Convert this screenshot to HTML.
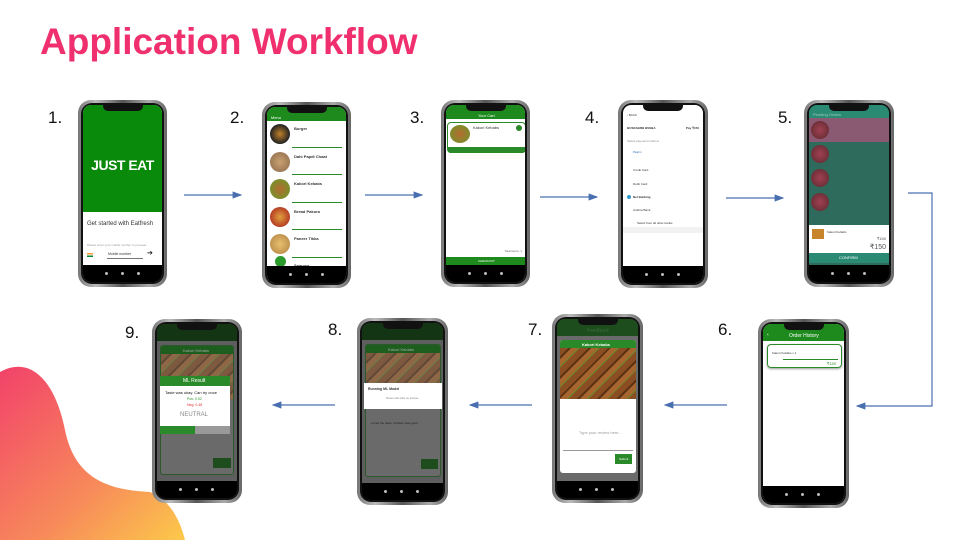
<!DOCTYPE html>
<html><head><meta charset="utf-8"><style>
*{margin:0;padding:0;box-sizing:border-box}
body{width:960px;height:540px;background:#fff;position:relative;overflow:hidden;font-family:"Liberation Sans",sans-serif}
.abs{position:absolute}
.ph{position:absolute;border-radius:13px;background:linear-gradient(90deg,#777,#bbb 20%,#555 50%,#aaa 80%,#666);padding:3px}
.ph>.in{width:100%;height:100%;background:#111;border-radius:11px;padding:2px;position:relative}
.sc{position:relative;width:100%;height:100%;border-radius:8px;overflow:hidden;background:#fff}
.notch{position:absolute;left:50%;top:0;width:40px;height:6px;margin-left:-20px;background:#111;border-radius:0 0 5px 5px;z-index:5}
.nav{position:absolute;left:0;right:0;bottom:0;height:17px;background:#000;z-index:4}
.nav i{position:absolute;top:7px;width:3px;height:3px;border-radius:50%;background:#bbb}
.lbl{position:absolute;font-size:17px;color:#111}
.t{position:absolute;font-size:4px;color:#333;white-space:nowrap}
.food{position:absolute;border-radius:50%;background:radial-gradient(circle at 40% 40%,#c98a3a,#7a4a1e 70%,#4a2a10)}
.kebab{position:absolute;background:repeating-linear-gradient(135deg,#8a4e22 0 6px,#5c3214 6px 8px,#a7652f 8px 13px,#6a8a2a 13px 14px)}
</style></head><body>

<div class="abs" style="left:40px;top:21px;font-size:37px;font-weight:bold;color:#f0306e">Application Workflow</div>

<svg class="abs" style="left:0;top:0" width="960" height="540">
<defs><linearGradient id="g" x1="0" y1="0" x2="1" y2="1"><stop offset="0" stop-color="#f2426a"/><stop offset="0.6" stop-color="#f78a5a"/><stop offset="1" stop-color="#fcc94a"/></linearGradient>
<marker id="a" markerWidth="8" markerHeight="6" refX="7" refY="3" orient="auto"><path d="M0,0 L8,3 L0,6 Z" fill="#4a6fb0"/></marker></defs>
<path d="M0,372 C30,355 55,380 65,430 C75,480 110,490 150,492 C170,500 180,520 185,540 L0,540 Z" fill="url(#g)"/>
<g stroke="#4a6fb0" stroke-width="1.2" fill="none" marker-end="url(#a)">
<line x1="184" y1="195" x2="241" y2="195"/>
<line x1="365" y1="195" x2="422" y2="195"/>
<line x1="540" y1="197" x2="597" y2="197"/>
<line x1="726" y1="198" x2="783" y2="198"/>
<polyline points="908,193 932,193 932,406 857,406"/>
<line x1="727" y1="405" x2="665" y2="405"/>
<line x1="532" y1="405" x2="470" y2="405"/>
<line x1="335" y1="405" x2="273" y2="405"/>
</g>
</svg>

<div class="lbl" style="left:48px;top:108px">1.</div>
<div class="lbl" style="left:230px;top:108px">2.</div>
<div class="lbl" style="left:410px;top:108px">3.</div>
<div class="lbl" style="left:585px;top:108px">4.</div>
<div class="lbl" style="left:778px;top:108px">5.</div>
<div class="lbl" style="left:718px;top:320px">6.</div>
<div class="lbl" style="left:528px;top:320px">7.</div>
<div class="lbl" style="left:328px;top:320px">8.</div>
<div class="lbl" style="left:125px;top:323px">9.</div>

<!-- Phone 1 -->
<div class="ph" style="left:78px;top:100px;width:89px;height:187px"><div class="in"><div class="sc">
<div class="notch"></div>
<div class="abs" style="left:0;top:0;right:0;height:107px;background:#0a8a0a"></div>
<div class="abs" style="left:0;right:0;top:52px;text-align:center;color:#fff;font-weight:bold;font-size:14px;letter-spacing:-0.5px">JUST EAT</div>
<div class="t" style="left:4px;top:116px;font-size:6px">Get started with Eatfresh</div>
<div class="t" style="left:4px;top:138px;font-size:3px;color:#999">Please enter your mobile number to proceed</div>
<div class="abs" style="left:4px;top:148px;width:6px;height:4px;background:linear-gradient(#f93 33%,#fff 33% 66%,#083 66%)"></div>
<div class="t" style="left:25px;top:147px;font-size:3.5px">Mobile number</div>
<div class="abs" style="left:24px;top:153px;width:36px;height:1px;background:#777"></div>
<div class="t" style="left:64px;top:144px;font-size:7px;color:#222">➔</div>
<div class="nav"><i style="left:22px"></i><i style="left:38px"></i><i style="left:54px"></i></div>
</div></div></div>

<!-- Phone 2 -->
<div class="ph" style="left:262px;top:102px;width:89px;height:186px"><div class="in"><div class="sc">
<div class="notch"></div>
<div class="abs" style="left:0;top:0;right:0;height:14px;background:#1e8a1e"></div>
<div class="t" style="left:4px;top:8px;color:#fff">Menu</div>
<div class="food" style="left:3px;top:17px;width:20px;height:20px;background:radial-gradient(#c0802a,#222 70%)"></div>
<div class="food" style="left:3px;top:45px;width:20px;height:20px;background:radial-gradient(#c9a070,#8a6a4a)"></div>
<div class="food" style="left:3px;top:72px;width:20px;height:20px;background:radial-gradient(#b56a30,#6a9a2a 90%)"></div>
<div class="food" style="left:3px;top:100px;width:20px;height:20px;background:radial-gradient(#e0a040,#b03020 80%)"></div>
<div class="food" style="left:3px;top:127px;width:20px;height:20px;background:radial-gradient(#e8c070,#b08040)"></div>
<div class="t" style="left:27px;top:19px;font-weight:bold">Burger</div>
<div class="t" style="left:27px;top:47px;font-weight:bold">Dahi Papdi Chaat</div>
<div class="t" style="left:27px;top:74px;font-weight:bold">Kakori Kebabs</div>
<div class="t" style="left:27px;top:102px;font-weight:bold">Bread Pakora</div>
<div class="t" style="left:27px;top:129px;font-weight:bold">Paneer Tikka</div>
<div class="t" style="left:27px;top:156px;font-weight:bold">Samosa</div>
<div class="abs" style="left:25px;top:40px;width:50px;height:1px;background:#2a8a2a"></div>
<div class="abs" style="left:25px;top:67px;width:50px;height:1px;background:#2a8a2a"></div>
<div class="abs" style="left:25px;top:95px;width:50px;height:1px;background:#2a8a2a"></div>
<div class="abs" style="left:25px;top:122px;width:50px;height:1px;background:#2a8a2a"></div>
<div class="abs" style="left:25px;top:150px;width:50px;height:1px;background:#2a8a2a"></div>
<div class="abs" style="left:8px;top:149px;width:11px;height:11px;border-radius:50%;background:#2a9a2a"></div>
<div class="nav"><i style="left:22px"></i><i style="left:38px"></i><i style="left:54px"></i></div>
</div></div></div>

<!-- Phone 3 -->
<div class="ph" style="left:441px;top:100px;width:89px;height:187px"><div class="in"><div class="sc">
<div class="notch"></div>
<div class="abs" style="left:0;top:0;right:0;height:14px;background:#1e8a1e"></div>
<div class="t" style="left:32px;top:8px;color:#fff">Your Cart</div>
<div class="abs" style="left:1px;top:17px;width:79px;height:31px;border:1px solid #2a8a2a;border-radius:4px;background:#fff"></div>
<div class="abs" style="left:1px;top:42px;width:79px;height:6px;background:#2a8a2a;border-radius:0 0 4px 4px"></div>
<div class="food" style="left:4px;top:20px;width:20px;height:18px;background:radial-gradient(#b56a30,#6a9a2a)"></div>
<div class="t" style="left:27px;top:20px">Kakori Kebabs</div>
<div class="abs" style="left:70px;top:20px;width:6px;height:6px;border-radius:50%;background:#2a8a2a"></div>
<div class="abs" style="left:0;right:0;bottom:17px;height:8px;background:#1e8a1e"></div>
<div class="t" style="left:32px;bottom:19px;color:#fff;font-size:3px">CHECKOUT</div>
<div class="t" style="right:3px;bottom:29px;font-size:3px;color:#666">Total items: 1</div>
<div class="nav"><i style="left:22px"></i><i style="left:38px"></i><i style="left:54px"></i></div>
</div></div></div>

<!-- Phone 4 -->
<div class="ph" style="left:618px;top:100px;width:90px;height:188px"><div class="in"><div class="sc">
<div class="notch"></div>
<div class="t" style="left:4px;top:8px;font-size:3px">‹ BACK</div>
<div class="t" style="left:4px;top:21px;font-size:3px;font-weight:bold">BUSDABRB BSSBA</div>
<div class="t" style="right:4px;top:21px;font-size:3px;font-weight:bold">Pay ₹150</div>
<div class="t" style="left:4px;top:34px;font-size:3px;color:#888">Select payment method</div>
<div class="t" style="left:10px;top:45px;font-size:3px;color:#26a">Paytm</div>
<div class="t" style="left:10px;top:63px;font-size:3px">Credit Card</div>
<div class="t" style="left:10px;top:77px;font-size:3px">Debit Card</div>
<div class="t" style="left:10px;top:90px;font-size:3px;font-weight:bold">Net Banking</div>
<div class="abs" style="left:4px;top:90px;width:4px;height:4px;border-radius:50%;background:#39c"></div>
<div class="t" style="left:10px;top:103px;font-size:3px">Andhra Bank</div>
<div class="t" style="left:14px;top:116px;font-size:3px">Select from all other banks</div>
<div class="abs" style="left:0;right:0;top:122px;height:6px;background:#f2f2f2"></div>
<div class="nav"><i style="left:22px"></i><i style="left:38px"></i><i style="left:54px"></i></div>
</div></div></div>

<!-- Phone 5 -->
<div class="ph" style="left:804px;top:100px;width:90px;height:187px"><div class="in"><div class="sc" style="background:#2e6b5c">
<div class="notch"></div>
<div class="abs" style="left:0;top:0;right:0;height:13px;background:#2a8a74"></div>
<div class="t" style="left:4px;top:7px;color:#9ccfc0">Pending Orders</div>
<div class="abs" style="left:0;right:0;top:13px;height:24px;background:#8a5a72"></div>
<div class="food" style="left:2px;top:16px;width:18px;height:18px;background:radial-gradient(#a04050,#5a2a30)"></div>
<div class="food" style="left:2px;top:40px;width:18px;height:18px;background:radial-gradient(#a04050,#5a2a30)"></div>
<div class="food" style="left:2px;top:64px;width:18px;height:18px;background:radial-gradient(#a04050,#5a2a30)"></div>
<div class="food" style="left:2px;top:88px;width:18px;height:18px;background:radial-gradient(#a04050,#5a2a30)"></div>
<div class="abs" style="left:0;right:0;top:120px;height:28px;background:#fff"></div>
<div class="abs" style="left:3px;top:124px;width:12px;height:10px;background:#c8842a"></div>
<div class="t" style="left:18px;top:125px;font-size:3px">Kakori Kebabs</div>
<div class="t" style="right:3px;top:131px;font-size:4px;color:#555">₹150</div>
<div class="t" style="right:3px;top:138px;font-size:7px;color:#555">₹150</div>
<div class="abs" style="left:0;right:0;top:148px;height:10px;background:#2a8a74"></div>
<div class="t" style="left:30px;top:150px;color:#fff;font-size:4px">CONFIRM</div>
<div class="nav"><i style="left:22px"></i><i style="left:38px"></i><i style="left:54px"></i></div>
</div></div></div>

<!-- Phone 6 -->
<div class="ph" style="left:758px;top:319px;width:91px;height:189px"><div class="in"><div class="sc">
<div class="notch"></div>
<div class="abs" style="left:0;top:0;right:0;height:17px;background:#1e8a1e"></div>
<div class="t" style="left:26px;top:9px;color:#fff;font-size:5px">Order History</div>
<div class="t" style="left:4px;top:8px;color:#fff;font-size:5px">‹</div>
<div class="abs" style="left:4px;top:20px;width:75px;height:24px;border:1px solid #2a8a2a;border-radius:4px;box-shadow:0 1px 2px #999"></div>
<div class="t" style="left:9px;top:27px;font-size:3px">Kakori Kebabs x 1</div>
<div class="abs" style="left:20px;top:35px;width:55px;height:1px;background:#2a8a2a"></div>
<div class="t" style="right:8px;top:37px;font-size:4px;color:#2a8a2a">₹150</div>
<div class="nav"><i style="left:22px"></i><i style="left:38px"></i><i style="left:54px"></i></div>
</div></div></div>

<!-- Phone 7 -->
<div class="ph" style="left:552px;top:314px;width:91px;height:189px"><div class="in"><div class="sc" style="background:#6a6a6a">
<div class="notch"></div>
<div class="abs" style="left:0;top:0;right:0;height:17px;background:#1d4d1d"></div>
<div class="t" style="left:30px;top:9px;color:#3a6a3a;font-size:5px">Feedback</div>
<div class="abs" style="left:3px;top:21px;width:76px;height:133px;background:#fff;border-radius:3px;overflow:hidden">
<div class="abs" style="left:0;right:0;top:0;height:8px;background:#2a8a2a"></div>
<div class="t" style="left:22px;top:2px;color:#fff;font-weight:bold">Kakori Kebabs</div>
<div class="kebab" style="left:0;right:0;top:8px;height:51px"></div>
<div class="t" style="left:19px;top:90px;color:#999">Type your review here...</div>
<div class="abs" style="left:3px;top:110px;width:70px;height:1px;background:#999"></div>
<div class="abs" style="left:55px;top:114px;width:17px;height:10px;background:#2a8a2a"></div>
<div class="t" style="left:59px;top:117px;color:#fff;font-size:3px">Submit</div>
</div>
<div class="nav"><i style="left:22px"></i><i style="left:38px"></i><i style="left:54px"></i></div>
</div></div></div>

<!-- Phone 8 -->
<div class="ph" style="left:357px;top:318px;width:91px;height:187px"><div class="in"><div class="sc" style="background:#5e5e5e">
<div class="notch"></div>
<div class="abs" style="left:0;top:0;right:0;height:17px;background:#143514"></div>
<div class="abs" style="left:3px;top:21px;width:76px;height:133px;background:#6a6a6a;border:1px solid #2a5a2a;border-radius:3px;overflow:hidden">
<div class="abs" style="left:0;right:0;top:0;height:8px;background:#1d5d1d"></div>
<div class="t" style="left:22px;top:2px;color:#aaa">Kakori Kebabs</div>
<div class="kebab" style="left:0;right:0;top:8px;height:51px;opacity:.6"></div>
<div class="t" style="left:5px;top:76px;color:#222;font-size:3px">Loved the taste. Chicken was good</div>
<div class="abs" style="left:55px;top:114px;width:17px;height:10px;background:#1d4d1d"></div>
</div>
<div class="abs" style="left:2px;top:60px;width:78px;height:26px;background:#fff"></div>
<div class="t" style="left:6px;top:64px;font-size:3.5px;font-weight:bold">Running ML Model</div>
<div class="t" style="left:24px;top:74px;font-size:2.5px;color:#888">Please wait while we analyse</div>
<div class="nav"><i style="left:22px"></i><i style="left:38px"></i><i style="left:54px"></i></div>
</div></div></div>

<!-- Phone 9 -->
<div class="ph" style="left:152px;top:319px;width:90px;height:184px"><div class="in"><div class="sc" style="background:#5e5e5e">
<div class="notch"></div>
<div class="abs" style="left:0;top:0;right:0;height:17px;background:#143514"></div>
<div class="abs" style="left:3px;top:21px;width:74px;height:130px;background:#6a6a6a;border:1px solid #2a5a2a;border-radius:3px;overflow:hidden">
<div class="abs" style="left:0;right:0;top:0;height:8px;background:#1d5d1d"></div>
<div class="t" style="left:22px;top:2px;color:#aaa">Kakori Kebabs</div>
<div class="kebab" style="left:0;right:0;top:8px;height:45px;opacity:.6"></div>
<div class="abs" style="left:52px;top:112px;width:18px;height:10px;background:#1d4d1d"></div>
</div>
<div class="abs" style="left:3px;top:52px;width:70px;height:10px;background:#2a8a2a"></div>
<div class="t" style="left:26px;top:54px;color:#fff;font-size:5px">ML Result</div>
<div class="abs" style="left:3px;top:62px;width:70px;height:40px;background:#fff"></div>
<div class="t" style="left:8px;top:66px;font-size:4px;color:#111">Taste was okay. Can try once</div>
<div class="t" style="left:30px;top:73px;font-size:3.5px;color:#2a9a2a">Pos: 0.52</div>
<div class="t" style="left:30px;top:79px;font-size:3.5px;color:#d33">Neg: 0.48</div>
<div class="t" style="left:23px;top:88px;font-size:6px;color:#888">NEUTRAL</div>
<div class="abs" style="left:3px;top:102px;width:35px;height:8px;background:#2a8a2a"></div>
<div class="abs" style="left:38px;top:102px;width:35px;height:8px;background:#999"></div>
<div class="nav"><i style="left:22px"></i><i style="left:38px"></i><i style="left:54px"></i></div>
</div></div></div>

</body></html>
